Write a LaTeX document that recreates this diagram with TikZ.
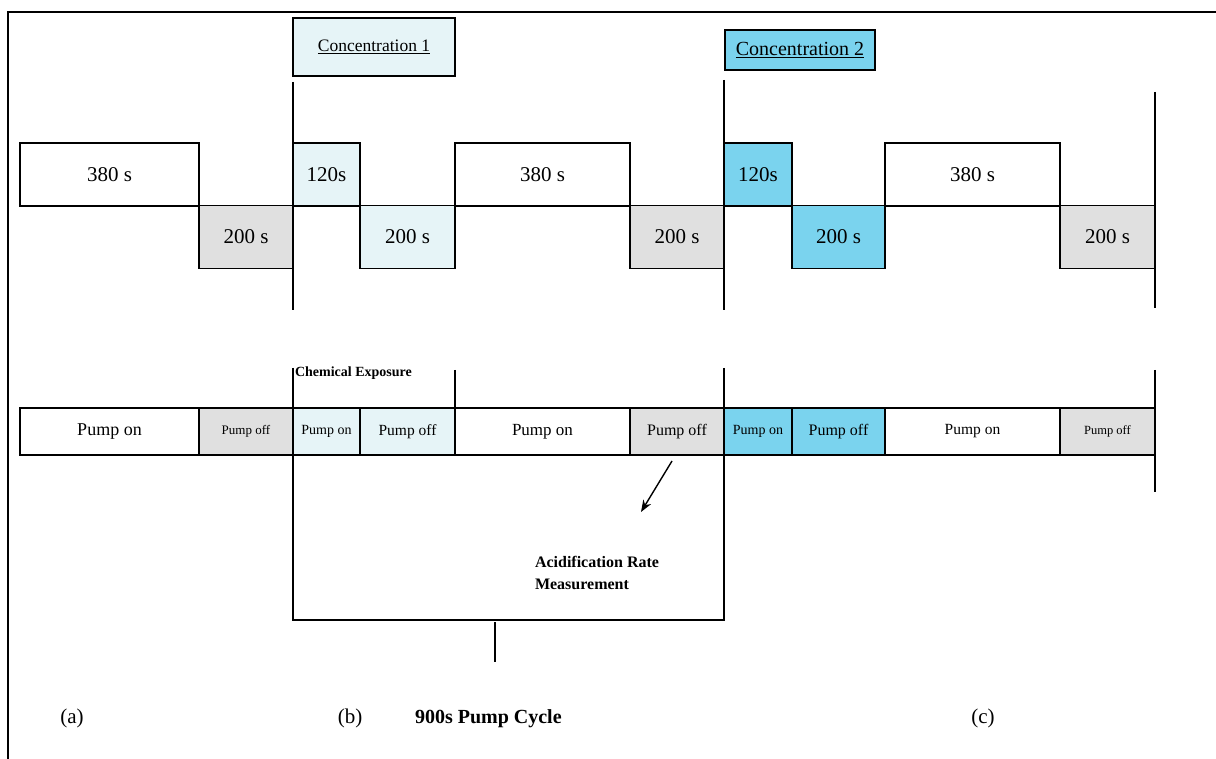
\documentclass[tikz,border=0pt]{standalone}
\usepackage{fontspec}
\setmainfont{Liberation Serif}
\usepackage{xcolor}
\usetikzlibrary{arrows.meta}

\definecolor{offgray}{RGB}{224,224,224}
\definecolor{paleblue}{RGB}{230,244,247}
\definecolor{doseblue}{RGB}{122,211,238}

\newcommand{\fs}[1]{\fontsize{#1}{#1}\selectfont}

\begin{document}
\begin{tikzpicture}[x=1pt,y=-1pt,line width=1.1pt,
  every node/.style={inner sep=0pt, outer sep=0pt},
  seg/.style={draw=black, line width=1.1pt, minimum height=63pt, font=\fs{21}},
  pump/.style={draw=black, line width=1.1pt, minimum height=47pt, font=\fs{16}},
  conc/.style={draw=black, line width=1.1pt},
  tag/.style={font=\fs{21}},
  bold/.style={font=\fontsize{14}{22}\selectfont\bfseries, align=left}]
\useasboundingbox (0,0) rectangle (1216,759);

% frame
\draw (8,759) -- (8,12) -- (1216,12);

% concentration boxes
\node[conc, fill=paleblue, minimum width=162pt, minimum height=58pt, font=\fs{17.5}] (conc1) at (374,47) {\underline{Concentration 1}};
\node[conc, fill=doseblue, minimum width=150pt, minimum height=40pt, font=\fs{20}] (conc2) at (800,50) {\underline{Concentration 2}};

% upper timeline
\node[seg, fill=white, minimum width=179pt] (on1) at (109.5,174.5) {380 s};
\node[seg, fill=offgray, minimum width=94pt] (off1) at (246,237) {200 s};
\node[seg, fill=paleblue, minimum width=67pt] (on2) at (326.5,174.5) {120s};
\node[seg, fill=paleblue, minimum width=95pt] (off2) at (407.5,237) {200 s};
\node[seg, fill=white, minimum width=175pt] (on3) at (542.5,174.5) {380 s};
\node[seg, fill=offgray, minimum width=94pt] (off3) at (677,237) {200 s};
\node[seg, fill=doseblue, minimum width=68pt] (on4) at (758,174.5) {120s};
\node[seg, fill=doseblue, minimum width=93pt] (off4) at (838.5,237) {200 s};
\node[seg, fill=white, minimum width=175pt] (on5) at (972.5,174.5) {380 s};
\node[seg, fill=offgray, minimum width=95pt] (off5) at (1107.5,237) {200 s};

% lower timeline
\node[pump, fill=white, minimum width=179pt, font=\fs{18}] (p1) at (109.5,431.5) {Pump on};
\node[pump, fill=offgray, minimum width=94pt, font=\fs{13}] (p2) at (246,431.5) {Pump off};
\node[pump, fill=paleblue, minimum width=67pt, font=\fs{14}] (p3) at (326.5,431.5) {Pump on};
\node[pump, fill=paleblue, minimum width=95pt, font=\fs{15.5}] (p4) at (407.5,431.5) {Pump off};
\node[pump, fill=white, minimum width=175pt, font=\fs{17}] (p5) at (542.5,431.5) {Pump on};
\node[pump, fill=offgray, minimum width=94pt] (p6) at (677,431.5) {Pump off};
\node[pump, fill=doseblue, minimum width=68pt, font=\fs{14}] (p7) at (758,431.5) {Pump on};
\node[pump, fill=doseblue, minimum width=93pt] (p8) at (838.5,431.5) {Pump off};
\node[pump, fill=white, minimum width=175pt, font=\fs{15.5}] (p9) at (972.5,431.5) {Pump on};
\node[pump, fill=offgray, minimum width=95pt, font=\fs{12.5}] (p10) at (1107.5,431.5) {Pump off};

% markers
\coordinate (m1a) at (293,82);  \coordinate (m1b) at (293,310);
\coordinate (m2a) at (724,80);  \coordinate (m2b) at (724,310);
\coordinate (m3a) at (1155,92); \coordinate (m3b) at (1155,308);
\draw (m1a) -- (m1b);
\draw (m2a) -- (m2b);
\draw (m3a) -- (m3b);
\coordinate (m4a) at (1155,370); \coordinate (m4b) at (1155,492);
\draw (m4a) -- (m4b);

% exposure bracket and measurement window
\node[bold, anchor=west] (chem) at (295,373) {Chemical Exposure};
\coordinate (c1) at (293,368); \coordinate (c2) at (455,370);
\draw (c1) -- (p3.north west);
\draw (c2) -- (p5.north west);
\coordinate (w1) at (724,368);
\draw (w1) -- (p7.north west);
\draw (p3.south west) -- (293,620) -- (724,620) -- (p7.south west);
\coordinate (stema) at (495,622); \coordinate (stemb) at (495,662);
\draw (stema) -- (stemb);

\node[bold, font=\fontsize{16}{22}\selectfont\bfseries, anchor=north west] (acid) at (535,556) {Acidification Rate\\Measurement};
\draw[line width=1.4pt, -{Stealth[length=12pt,width=9pt]}] (p6.south) ++(-5,6) coordinate (arra) -- (641,512) coordinate (arrb);

% labels
\node[tag] (la) at (72,718) {(a)};
\node[tag] (lb) at (350,718) {(b)};
\node[font=\fs{20}\bfseries, anchor=west] (cycle) at (415,719) {900s Pump Cycle};
\node[tag] (lc) at (983,718) {(c)};
\end{tikzpicture}
\end{document}
